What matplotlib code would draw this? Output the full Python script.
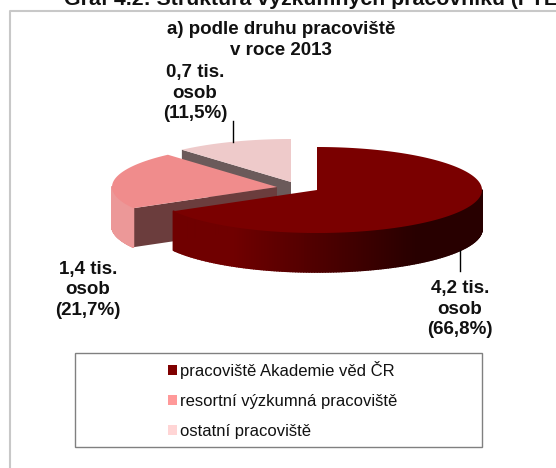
import matplotlib
matplotlib.use("Agg")
import matplotlib.pyplot as plt
import numpy as np
from matplotlib.collections import PolyCollection
from matplotlib.colors import to_rgb
from matplotlib.patches import Patch, Polygon, Rectangle

plt.rcParams["font.family"] = ["Liberation Sans", "DejaVu Sans"]

categories = ["pracoviště Akademie věd ČR", "resortní výzkumná pracoviště", "ostatní pracoviště"]
shares = [66.8, 21.7, 11.5]
value_labels = ["4,2 tis.\nosob\n(66,8%)", "1,4 tis.\nosob\n(21,7%)", "0,7 tis.\nosob\n(11,5%)"]
legend_colors = ["#7f0000", "#ff9999", "#ffd5d5"]
top_colors = ["#7a0000", "#f08c8c", "#eecaca"]
face_colors = ["#5a0000", "#6b3d3d", "#6b5a5a"]
wall_left = ["#700000", "#ec9898", "#eecaca"]
wall_right = ["#280000", "#e88c8c", "#eecaca"]

RX, RY, DEPTH = 165, 43, 39
# exploded apex of each slice, in pixels
apexes = [(317, 190), (277, 187), (291, 182)]


def rim(apex, t):
    return apex[0] + RX * np.sin(t), apex[1] - RY * np.cos(t)


def draw_slice(ax, i, start, end):
    apex = apexes[i]
    t = np.linspace(start, end, 200)
    x, y = rim(apex, t)

    # cut face at the start of the slice, only seen on the later slices
    if i > 0:
        sx, sy = rim(apex, start)
        ax.add_patch(Polygon([apex, (sx, sy), (sx, sy + DEPTH), (apex[0], apex[1] + DEPTH)],
                             fc=face_colors[i], ec="none"))
    # outer wall only on the front half
    front = np.linspace(max(start, np.pi / 2), min(end, 3 * np.pi / 2), 160)
    if front[-1] > front[0]:
        fx, fy = rim(apex, front)
        quads = []
        cols = []
        c0, c1 = np.array(to_rgb(wall_left[i])), np.array(to_rgb(wall_right[i]))
        for k in range(len(front) - 1):
            quads.append([(fx[k], fy[k]), (fx[k + 1], fy[k + 1]),
                          (fx[k + 1], fy[k + 1] + DEPTH), (fx[k], fy[k] + DEPTH)])
            pos = np.clip((fx[k] - apex[0] + RX * 0.5) / (RX * 1.1), 0, 1)
            cols.append(c0 + (c1 - c0) * pos)
        ax.add_collection(PolyCollection(quads, facecolors=cols, edgecolors=cols, linewidths=1.2))
    ax.add_patch(Polygon(np.vstack([[apex], np.column_stack([x, y])]), fc=top_colors[i], ec="none"))


fig = plt.figure(figsize=(5.56, 4.68), dpi=100)
ax = fig.add_axes([0, 0, 1, 1])
ax.set_xlim(0, 556)
ax.set_ylim(468, 0)
ax.axis("off")

# chart area border, runs off the right and bottom of the crop
ax.plot([10, 10, 556], [468, 11, 11], color="#c8c8c8", lw=1.5)

ax.text(64, 5, "Graf 4.2: Struktura výzkumných pracovníků (FTE", fontsize=15.3, fontweight="bold",
        va="baseline", ha="left", color="#111111")
ax.text(281, 40, "a) podle druhu pracoviště\nv roce 2013", fontsize=13.5, fontweight="bold",
        ha="center", va="center", linespacing=1.25, color="#111111")

edges = np.radians(np.cumsum([0] + shares) * 3.6)
for i in [2, 1, 0]:
    draw_slice(ax, i, edges[i], edges[i + 1])

ax.plot([232.5, 232.5], [121, 142], color="black", lw=1)
ax.plot([459.5, 459.5], [250, 271], color="black", lw=1)

label_pos = [(460, 309), (88, 290), (195, 93)]
for text, (lx, ly) in zip(value_labels, label_pos):
    ax.text(lx, ly, text, fontsize=13.5, fontweight="bold", ha="center", va="center",
            linespacing=1.25, color="#111111")

ax.add_patch(Rectangle((75, 353), 407, 94, fc="white", ec="#808080", lw=1))
handles = [Patch(fc=c, ec="none", label=n) for c, n in zip(legend_colors, categories)]
ax.legend(handles=handles, loc="upper left", bbox_to_anchor=(168 / 556, 1 - 361 / 468), frameon=False,
          fontsize=12, handlelength=0.55, handleheight=0.55, handletextpad=0.2,
          labelspacing=0.9, borderpad=0, borderaxespad=0, labelcolor="#111111")

fig.savefig("out.png", dpi=100)
